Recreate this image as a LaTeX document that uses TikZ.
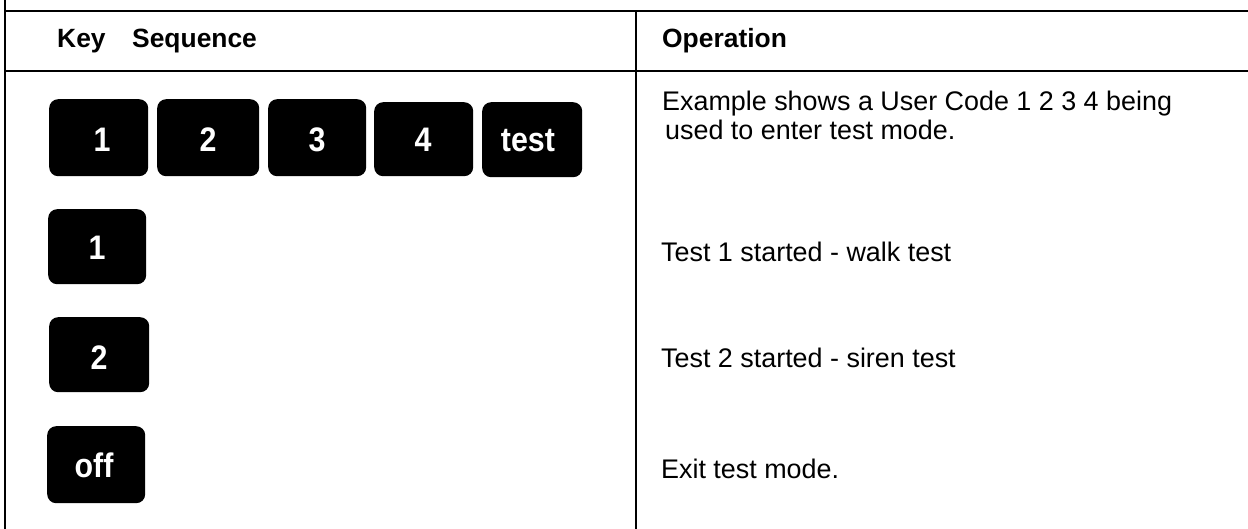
\documentclass[tikz,border=0pt]{standalone}
\usepackage{graphicx}
\usepackage{fontspec}
\setmainfont{Liberation Sans}
\newcommand{\keylabel}[1]{\scalebox{1}[1.12]{#1}}
\begin{document}
\begin{tikzpicture}[x=1bp,y=-1bp,
  rule/.style={line width=2bp,draw=black},
  keybox/.style={fill=black,rounded corners=9bp,inner sep=0pt,anchor=north west},
  keytxt/.style={text=white,font=\fontsize{30.5}{34}\bfseries\selectfont,inner sep=0pt,anchor=base},
  hdr/.style={font=\fontsize{26.5}{30}\bfseries\selectfont,inner sep=0pt,anchor=base west},
  body/.style={font=\fontsize{27}{30}\selectfont,inner sep=0pt,anchor=base west}]
\useasboundingbox (0,0) rectangle (1248,529);
% table rules
\coordinate (lt) at (5,0);
\coordinate (lb) at (5,529);
\coordinate (tl) at (5,11);
\coordinate (tr) at (1248,11);
\coordinate (hl) at (5,71);
\coordinate (hr) at (1248,71);
\coordinate (mt) at (636,11);
\coordinate (mb) at (636,529);
\draw[rule] (lt) -- (lb);
\draw[rule] (tl) -- (tr);
\draw[rule] (hl) -- (hr);
\draw[rule] (mt) -- (mb);
% headers
\node[hdr] (hkey) at (57,48) {Key};
\node[hdr] (hseq) at (132,48) {Sequence};
\node[hdr] (hop) at (662,48) {Operation};
% keys row 1
\node[keybox,minimum width=99bp,minimum height=77bp] (k1) at (49,99) {};
\node[keybox,minimum width=102bp,minimum height=77bp] (k2) at (157,99) {};
\node[keybox,minimum width=98bp,minimum height=77bp] (k3) at (268,99) {};
\node[keybox,minimum width=99bp,minimum height=74bp] (k4) at (374,102) {};
\node[keybox,minimum width=100bp,minimum height=75bp] (kt) at (482,102) {};
\node[keytxt] (k1t) at (102,152) {\keylabel{1}};
\node[keytxt] (k2t) at (208,152) {\keylabel{2}};
\node[keytxt] (k3t) at (317,152) {\keylabel{3}};
\node[keytxt] (k4t) at (423,152) {\keylabel{4}};
\node[keytxt] (ktt) at (528,152) {\keylabel{test}};
% row 2
\node[keybox,minimum width=98bp,minimum height=75bp] (r2k) at (48,209) {};
\node[keytxt] (r2t) at (97,260) {\keylabel{1}};
% row 3
\node[keybox,minimum width=100bp,minimum height=75bp] (r3k) at (49,317) {};
\node[keytxt] (r3t) at (99,370) {\keylabel{2}};
% row 4
\node[keybox,minimum width=98bp,minimum height=77bp] (r4k) at (47,426) {};
\node[keytxt] (r4t) at (94,477) {\keylabel{off}};
% operations
\node[body] (op1a) at (662,111) {Example shows a User Code 1 2 3 4 being};
\node[body] (op1b) at (665,140) {used to enter test mode.};
\node[body] (op2) at (661,262) {Test 1 started - walk test};
\node[body] (op3) at (661,368) {Test 2 started - siren test};
\node[body] (op4) at (661,478) {Exit test mode.};
\end{tikzpicture}
\end{document}
